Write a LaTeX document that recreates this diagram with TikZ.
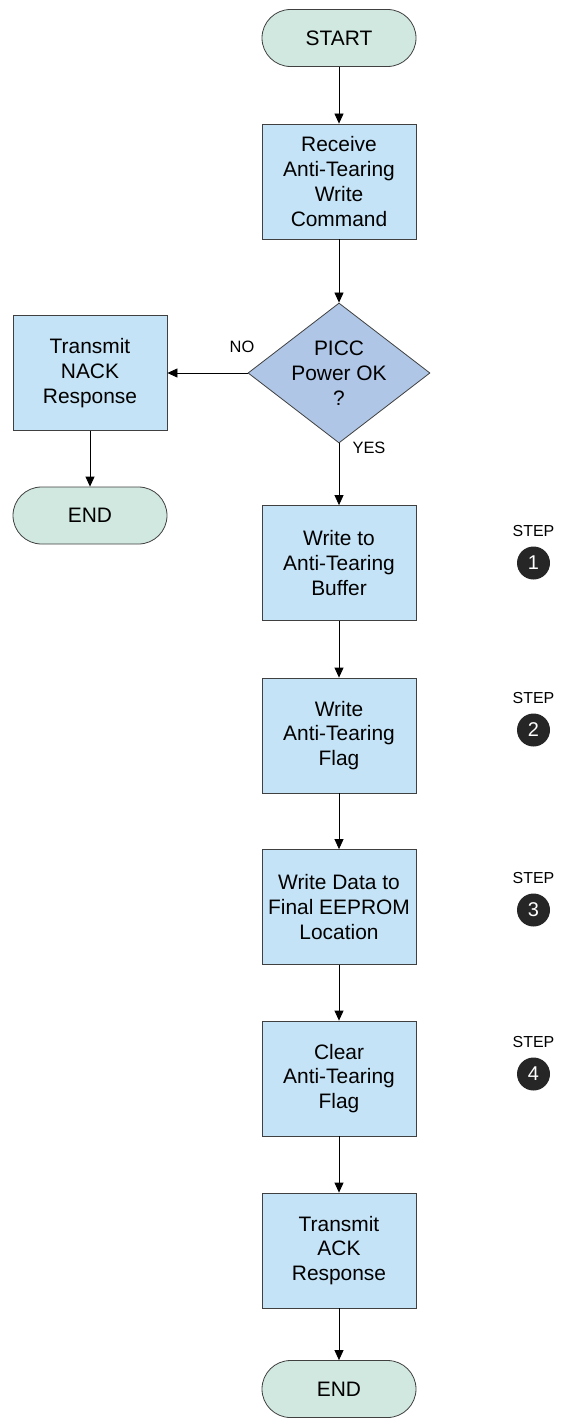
\documentclass[tikz,border=0pt]{standalone}
\usepackage{fontspec}
\setmainfont{Liberation Sans}
\usetikzlibrary{arrows.meta,shapes.geometric}
\definecolor{boxblue}{HTML}{C5E3F6}
\definecolor{termgreen}{HTML}{D0E8E0}
\definecolor{decblue}{HTML}{AFC6E6}
\definecolor{edgegray}{HTML}{404040}
\tikzset{
	procbox/.style={draw=edgegray, fill=boxblue, line width=0.8bp, minimum width=154bp, minimum height=115bp, align=center, inner sep=0pt, font=\fontsize{21}{25}\selectfont},
	termbox/.style={draw=edgegray, fill=termgreen, line width=0.8bp, rounded corners=28.5bp, minimum width=154bp, minimum height=57bp, inner sep=0pt, font=\fontsize{21}{25}\selectfont},
	decbox/.style={diamond, draw=edgegray, fill=decblue, line width=0.8bp, minimum width=182bp, minimum height=140bp, inner sep=0pt},
	flowarrow/.style={-{Triangle[length=10bp,width=9bp]}, line width=0.8bp},
	branchlbl/.style={font=\fontsize{16.5}{20}\selectfont},
	steplbl/.style={font=\fontsize{16}{20}\selectfont},
	stepdot/.style={circle, fill=black!85, text=white, minimum size=33bp, inner sep=0pt, font=\fontsize{20}{20}\selectfont}
}

\begin{document}
\begin{tikzpicture}[x=1bp, y=-1bp]
			%%%%% START %%%%%
			
			\useasboundingbox (0, 0) rectangle (561, 1418);
			
			\node[termbox] (start) at (339, 38) {START};
			\node[procbox] (recv) at (339, 181.5) {Receive\\Anti-Tearing\\Write\\Command};
			
			\node[decbox] (pwr) at (339, 373) {};
			\node[align=center, font=\fontsize{21}{25}\selectfont] (pwrtext) at (pwr) {PICC\\Power OK\\?};
			
			\node[procbox] (nack) at (90, 373) {Transmit\\NACK\\Response};
			\node[termbox] (endl) at (90, 515.5) {END};
			
			\node[procbox] (wbuf) at (339, 563) {Write to\\Anti-Tearing\\Buffer};
			\node[procbox] (wflag) at (339, 735.5) {Write\\Anti-Tearing\\Flag};
			\node[procbox] (wdata) at (339, 907) {Write Data to\\Final EEPROM\\Location};
			\node[procbox] (clrflag) at (339, 1078.5) {Clear\\Anti-Tearing\\Flag};
			\node[procbox] (ack) at (339, 1250.5) {Transmit\\ACK\\Response};
			\node[termbox] (endr) at (339, 1389) {END};
			
			\draw[flowarrow] (start) -- (recv);
			\draw[flowarrow] (recv) -- (pwr);
			\draw[flowarrow] (pwr.west) -- (nack.east);
			\draw[flowarrow] (nack) -- (endl);
			\draw[flowarrow] (pwr.south) -- (wbuf.north);
			\draw[flowarrow] (wbuf) -- (wflag);
			\draw[flowarrow] (wflag) -- (wdata);
			\draw[flowarrow] (wdata) -- (clrflag);
			\draw[flowarrow] (clrflag) -- (ack);
			\draw[flowarrow] (ack) -- (endr);
			
			\node[branchlbl] (nolbl) at (242, 347) {NO};
			\node[branchlbl] (yeslbl) at (369, 448) {YES};
			
			\foreach \n/\y in {1/563, 2/730, 3/910, 4/1074}{
				\node[steplbl] (step\n) at (533.5, \y-32) {STEP};
				\node[stepdot] (dot\n) at (533.5, \y) {\n};
			}
			
			%%%%% END %%%%%
\end{tikzpicture}
\end{document}
